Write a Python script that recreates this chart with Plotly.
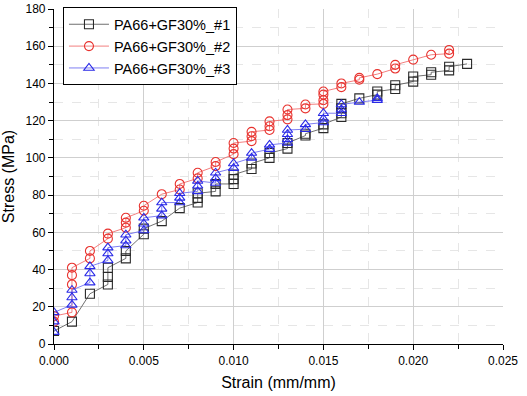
import plotly.graph_objects as go

# Series #1 (black squares)
s1_strain = [0.000, 0.001, 0.002, 0.003, 0.003, 0.003, 0.004, 0.004, 0.005, 0.005,
             0.006, 0.007, 0.008, 0.008, 0.008, 0.009, 0.009, 0.010, 0.010, 0.010,
             0.011, 0.011, 0.012, 0.012, 0.013, 0.013, 0.014, 0.014, 0.015, 0.015,
             0.016, 0.016, 0.016, 0.016, 0.017, 0.018, 0.018, 0.019, 0.019, 0.020,
             0.020, 0.021, 0.021, 0.022, 0.022, 0.023]
s1_stress = [7, 12, 27, 32, 36, 41, 46, 50, 59, 62,
             66, 73, 76, 78.5, 81, 82, 86, 86, 88.6, 91,
             94, 97, 100, 102.6, 105, 108, 112, 113, 116, 118,
             122, 124, 126.6, 129, 132, 134, 135.7, 137, 139, 141,
             143.7, 144.7, 146, 147, 149, 150.5]

# Series #2 (red circles)
s2_strain = [0.000, 0.000, 0.001, 0.001, 0.001, 0.001, 0.002, 0.002, 0.003, 0.003,
             0.004, 0.004, 0.004, 0.005, 0.005, 0.006, 0.007, 0.007, 0.008, 0.008,
             0.009, 0.009, 0.010, 0.010, 0.010, 0.011, 0.011, 0.011, 0.012, 0.012,
             0.012, 0.013, 0.013, 0.013, 0.014, 0.014, 0.015, 0.015, 0.015, 0.015,
             0.016, 0.016, 0.017, 0.017, 0.018, 0.019, 0.019, 0.020, 0.021, 0.022,
             0.022]
s2_stress = [12, 15, 17, 32, 37, 41, 46, 50, 56.6, 59.3,
             62.5, 65.2, 67.8, 71.6, 74.3, 80.5, 83, 86, 89, 92,
             95.6, 97.8, 102, 105, 108, 109, 111.6, 114, 115, 117,
             119.6, 120.7, 123, 126, 126.6, 128.7, 129, 131, 134, 135.7,
             138, 140, 142, 143, 145, 148, 150, 152.8, 155.4, 156,
             158]

# Series #3 (blue triangles)
s3_strain = [0.000, 0.000, 0.000, 0.001, 0.001, 0.001, 0.002, 0.002, 0.002, 0.003,
             0.003, 0.003, 0.004, 0.004, 0.004, 0.005, 0.005, 0.005, 0.006, 0.006,
             0.006, 0.007, 0.007, 0.007, 0.008, 0.008, 0.008, 0.009, 0.009, 0.009,
             0.010, 0.010, 0.011, 0.011, 0.012, 0.012, 0.013, 0.013, 0.013, 0.013,
             0.014, 0.014, 0.015, 0.015, 0.015, 0.016, 0.016, 0.016, 0.017, 0.018,
             0.018]
s3_stress = [6.4, 12, 17, 21, 25, 29, 33, 37.9, 41.7, 44.9,
             48.6, 51.8, 52.9, 55.5, 58.7, 61, 64.6, 67.8, 69, 72.6,
             76, 76, 78.5, 81, 82, 85, 87.6, 86.5, 89, 92,
             94.5, 97, 100, 102.6, 104.7, 107, 108, 110, 112.7, 115,
             115.4, 118, 119, 121, 124, 124, 126, 128.7, 130, 131,
             132]

names = ["PA66+GF30%_#1", "PA66+GF30%_#2", "PA66+GF30%_#3"]
x_ticks = [0.000, 0.005, 0.010, 0.015, 0.020, 0.025]
y_ticks = [0, 20, 40, 60, 80, 100, 120, 140, 160, 180]

series = [
    (s1_strain, s1_stress, names[0], "square-open", "#2a2a2a", "#606060"),
    (s2_strain, s2_stress, names[1], "circle-open", "#e8322e", "#f07070"),
    (s3_strain, s3_stress, names[2], "triangle-up-open", "#2a2ae6", "#7070f0"),
]

fig = go.Figure()
for xs, ys, nm, sym, mc, lc in series:
    fig.add_trace(go.Scatter(
        x=xs, y=ys, name=nm, mode="lines+markers",
        line=dict(color=lc, width=0.9),
        marker=dict(symbol=sym, size=9, color=mc, line=dict(width=1.1, color=mc)),
    ))

font_family = "Liberation Sans, Arial, sans-serif"
fig.update_layout(
    width=527, height=396,
    margin=dict(l=54, r=24, t=7, b=52),
    paper_bgcolor="white", plot_bgcolor="white",
    font=dict(family=font_family, color="black", size=12),
    showlegend=True,
    legend=dict(
        x=0.02, y=1.005, xanchor="left", yanchor="top",
        bordercolor="black", borderwidth=1, bgcolor="white",
        font=dict(size=14.5, family=font_family),
        tracegroupgap=0, itemwidth=40,
    ),
)
fig.update_xaxes(
    range=[0, 0.025], tickvals=x_ticks, ticktext=[f"{v:.3f}" for v in x_ticks],
    showline=True, linecolor="black", linewidth=1.2,
    ticks="outside", ticklen=5, tickcolor="black",
    showgrid=True, gridcolor="#cfcfcf", gridwidth=1,
    zeroline=False, automargin=False,
    tickfont=dict(size=12),
    title=dict(text="Strain (mm/mm)", font=dict(size=16), standoff=10),
    minor=dict(dtick=0.0025, tick0=0, ticks="outside", ticklen=4, tickcolor="black",
               showgrid=True, gridcolor="#e6e6e6", griddash="dash"),
)
fig.update_yaxes(
    range=[0, 180], tickvals=y_ticks,
    showline=True, linecolor="black", linewidth=1.2,
    ticks="outside", ticklen=5, tickcolor="black",
    showgrid=True, gridcolor="#cfcfcf", gridwidth=1,
    zeroline=False, automargin=False,
    tickfont=dict(size=12),
    title=dict(text="Stress (MPa)", font=dict(size=16), standoff=8),
    minor=dict(dtick=10, tick0=0, ticks="outside", ticklen=4, tickcolor="black",
               showgrid=True, gridcolor="#e6e6e6", griddash="dash"),
)

fig.write_html(
    "out.html",
    config={"displayModeBar": False},
    post_script="document.body.style.margin='0';document.body.style.overflow='hidden';",
)
